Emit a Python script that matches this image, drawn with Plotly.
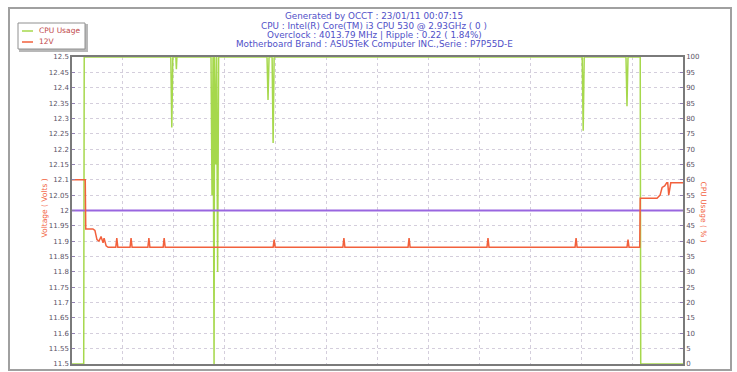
import plotly.graph_objects as go

# ---- data (time in seconds) ----
cpu_t = [0, 23, 24, 194, 196, 198, 204, 205, 206,
         273, 275, 277, 279, 280, 282, 284, 286, 288, 290,
         383, 385, 387, 393, 395, 397,
         1002, 1004, 1006, 1088, 1090, 1092, 1116, 1117, 1200]
cpu_v = [0, 0, 100, 100, 77, 100, 100, 96, 100,
         100, 55, 100, 0, 100, 65, 100, 30, 100, 100,
         100, 86, 100, 100, 72, 100,
         100, 76, 100, 100, 84, 100, 100, 0, 0]

v12_t = [0, 26, 27, 41, 45, 49, 53, 57, 61, 63, 67, 71,
         86, 88, 90, 114, 116, 118, 149, 151, 153, 179, 181, 183,
         395, 397, 399, 532, 534, 536, 660, 662, 664, 815, 817, 819,
         988, 990, 992, 1090, 1092, 1094, 1115, 1116,
         1149, 1155, 1159, 1164, 1168, 1170, 1172, 1176, 1182, 1200]
v12_v = [12.10, 12.10, 11.94, 11.94, 11.935, 11.905, 11.90, 11.915, 11.895, 11.91, 11.885, 11.88,
         11.88, 11.91, 11.88, 11.88, 11.91, 11.88, 11.88, 11.91, 11.88, 11.88, 11.91, 11.88,
         11.88, 11.905, 11.88, 11.88, 11.91, 11.88, 11.88, 11.91, 11.88, 11.88, 11.91, 11.88,
         11.88, 11.91, 11.88, 11.88, 11.905, 11.88, 11.88, 12.04,
         12.04, 12.05, 12.075, 12.08, 12.09, 12.09, 12.05, 12.09, 12.09, 12.09]

nominal_t = [0, 1200]
nominal_v = [12.0, 12.0]

series_names = ["CPU Usage", "12V"]

title_lines = [
    "Generated by OCCT : 23/01/11 00:07:15",
    "CPU : Intel(R) Core(TM) i3 CPU 530 @ 2.93GHz ( 0 )",
    "Overclock : 4013.79 MHz | Ripple : 0.22 ( 1.84%)",
    "Motherboard Brand : ASUSTeK Computer INC.,Serie : P7P55D-E",
]

GREEN = "#a6d84c"
RED = "#f2603c"
PURPLE = "#9966e0"
FONT = "DejaVu Sans"

fig = go.Figure()
fig.add_trace(go.Scatter(x=cpu_t, y=cpu_v, mode="lines", name=series_names[0],
                         line=dict(color=GREEN, width=1.5), yaxis="y"))
fig.add_trace(go.Scatter(x=nominal_t, y=nominal_v, mode="lines", name="12V nominal",
                         line=dict(color=PURPLE, width=2), yaxis="y2"))
fig.add_trace(go.Scatter(x=v12_t, y=v12_v, mode="lines", name=series_names[1],
                         line=dict(color=RED, width=1.5), yaxis="y2"))

grid = dict(showgrid=True, gridcolor="#d4cedc", griddash="dot", gridwidth=1)

fig.update_layout(
    width=737, height=372,
    margin=dict(l=72, r=54, t=57, b=8, autoexpand=False),
    paper_bgcolor="white", plot_bgcolor="white",
    font=dict(family=FONT, size=7, color="#5a5266"),
    showlegend=False,
    xaxis=dict(range=[0, 1200], dtick=100, showticklabels=False, zeroline=False,
               showline=True, mirror=True, linecolor="#7a7a7a", linewidth=1.5,
               **grid),
    yaxis=dict(range=[0, 100], dtick=5, side="right", zeroline=False,
               showline=True, linecolor="#7a7a7a", linewidth=1.5,
               ticks="inside", ticklen=3, tickcolor="#9080b0",
               showgrid=False, tickfont=dict(size=7, color="#5a5266")),
    yaxis2=dict(range=[11.5, 12.5], dtick=0.05, side="left", overlaying="y",
                zeroline=False, showline=True, linecolor="#7a7a7a", linewidth=1.5,
                ticks="inside", ticklen=3, tickcolor="#9080b0",
                tickfont=dict(size=7, color="#5a5266"), **grid),
)

def px(xp):
    return (xp - 72) / 611.0

def py(yp):
    return (364 - yp) / 307.0

# outer frame
fig.add_shape(type="rect", xref="paper", yref="paper",
              x0=px(9), x1=px(731), y0=py(370), y1=py(8),
              line=dict(color="#a0a0a0", width=2), layer="below")

# legend box (with shadow)
fig.add_shape(type="rect", xref="paper", yref="paper",
              x0=px(20), x1=px(87), y0=py(51), y1=py(25),
              line=dict(color="#b8b8b8", width=2), fillcolor="#b8b8b8", layer="above")
fig.add_shape(type="rect", xref="paper", yref="paper",
              x0=px(18), x1=px(85), y0=py(49), y1=py(23),
              line=dict(color="#909090", width=1), fillcolor="white", layer="above")
for name, color, yp in [(series_names[0], GREEN, 31), (series_names[1], RED, 42)]:
    fig.add_shape(type="line", xref="paper", yref="paper",
                  x0=px(22), x1=px(33), y0=py(yp), y1=py(yp),
                  line=dict(color=color, width=1.5), layer="above")
    fig.add_annotation(text=name, xref="paper", yref="paper", x=px(37), y=py(yp),
                       xanchor="left", yanchor="middle", showarrow=False,
                       font=dict(family=FONT, size=7.5, color="#c04848"))

# title lines
for txt, yp in zip(title_lines, [16, 26, 35, 44]):
    fig.add_annotation(text=txt, xref="paper", yref="paper", x=px(374), y=py(yp),
                       showarrow=False, xanchor="center", yanchor="middle",
                       font=dict(family=FONT, size=8.8, color="#5050c8"))

# axis titles
fig.add_annotation(text="Voltage ( Volts )", xref="paper", yref="paper",
                   x=px(37), y=py(208), textangle=-90, showarrow=False,
                   font=dict(family=FONT, size=7.5, color=RED))
fig.add_annotation(text="CPU Usage ( % )", xref="paper", yref="paper",
                   x=px(710), y=py(212), textangle=90, showarrow=False,
                   font=dict(family=FONT, size=7.5, color=RED))

fig.write_html("out.html", config={"displayModeBar": False},
               post_script="document.body.style.margin='0';document.body.style.overflow='hidden';")
